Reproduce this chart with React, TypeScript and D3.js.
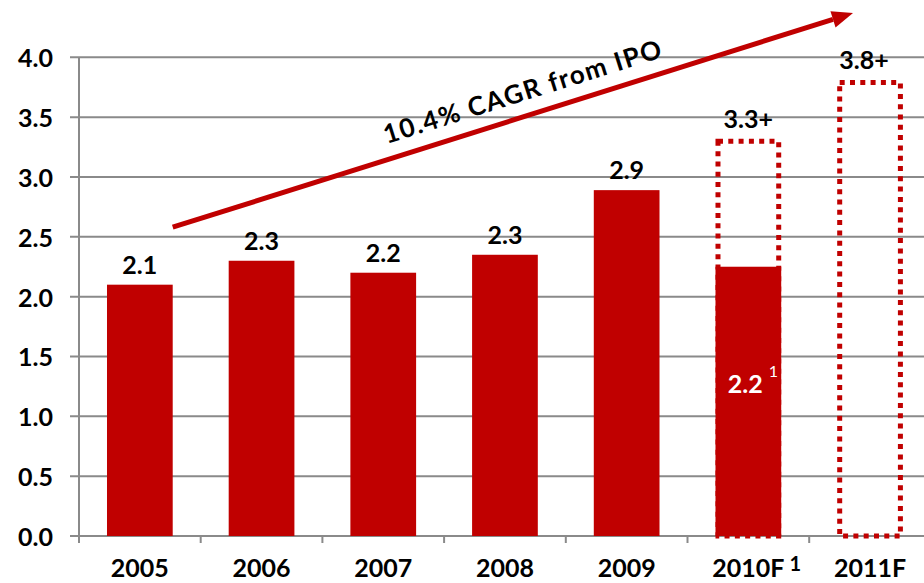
import React from 'react';
import * as d3 from 'd3';

const categories = ['2005', '2006', '2007', '2008', '2009', '2010F', '2011F'];
const actualValues: (number | null)[] = [2.1, 2.3, 2.2, 2.35, 2.89, 2.25, null];
const forecastValues: (number | null)[] = [null, null, null, null, null, 3.32, 3.81];
const valueLabels = ['2.1', '2.3', '2.2', '2.3', '2.9', '3.3+', '3.8+'];
const insideLabel2010 = '2.2';
const footnoteMark = '1';
const yTicks = [0, 0.5, 1, 1.5, 2, 2.5, 3, 3.5, 4];
const cagrText = '10.4% CAGR from IPO';
// arrow annotation in (category index, value) units
const arrowStart = [0.27, 2.58];
const arrowEnd = [5.86, 4.37];

const W = 924;
const H = 583;
const RED = '#C00000';
const GRID = '#8a8a8a';
const FONT = 'Lato, "Open Sans", sans-serif';

export default function App() {
  const left = 79;
  const step = 121.7;
  const x = d3
    .scaleBand<string>()
    .domain(categories)
    .range([left, left + step * categories.length])
    .paddingInner(0.46)
    .paddingOuter(0.23);
  const y = d3.scaleLinear().domain([0, 4]).range([536, 57.3]);
  const xi = d3
    .scaleLinear()
    .domain([-0.5, categories.length - 0.5])
    .range([left, left + step * categories.length]);
  const bw = x.bandwidth();

  const ax1 = xi(arrowStart[0]);
  const ay1 = y(arrowStart[1]);
  const ax2 = xi(arrowEnd[0]);
  const ay2 = y(arrowEnd[1]);
  const ang = Math.atan2(ay2 - ay1, ax2 - ax1);
  const angDeg = (ang * 180) / Math.PI;
  const headLen = 21;
  const headHalf = 8.5;
  const bx = ax2 - headLen * Math.cos(ang);
  const by = ay2 - headLen * Math.sin(ang);
  const px = -Math.sin(ang);
  const py = Math.cos(ang);
  const head = [
    [ax2, ay2],
    [bx + px * headHalf, by + py * headHalf],
    [bx - px * headHalf, by - py * headHalf],
  ]
    .map((p) => p.join(','))
    .join(' ');

  const c2010 = (x('2010F') as number) + bw / 2;

  return (
    <svg
      width={W}
      height={H}
      style={{ position: 'absolute', left: 0, top: 0, background: '#fff' }}
      fontFamily={FONT}
    >
      {/* gridlines */}
      {yTicks.map((t) => (
        <g key={t}>
          <line x1={70} x2={W} y1={y(t)} y2={y(t)} stroke={GRID} strokeWidth={2} />
          <text
            x={53}
            y={y(t)}
            textAnchor="end"
            dominantBaseline="central"
            fontSize={25}
            fontWeight={700}
            fill="#000"
          >
            {t.toFixed(1)}
          </text>
        </g>
      ))}
      {/* y axis */}
      <line x1={left} x2={left} y1={y(4)} y2={543} stroke={GRID} strokeWidth={2} />
      {/* x ticks */}
      {d3.range(categories.length + 1).map((i) => (
        <line
          key={i}
          x1={left + i * step}
          x2={left + i * step}
          y1={y(0)}
          y2={543}
          stroke={GRID}
          strokeWidth={2}
        />
      ))}
      {/* actual bars */}
      {categories.map((c, i) =>
        actualValues[i] == null ? null : (
          <rect
            key={c}
            x={x(c)}
            y={y(actualValues[i] as number)}
            width={bw}
            height={y(0) - y(actualValues[i] as number)}
            fill={RED}
          />
        )
      )}
      {/* forecast dotted boxes */}
      {categories.map((c, i) =>
        forecastValues[i] == null ? null : (
          <rect
            key={'f' + c}
            x={(x(c) as number) + 2.5}
            y={y(forecastValues[i] as number) + 2.5}
            width={bw - 5}
            height={y(0) - y(forecastValues[i] as number) - 2.5}
            fill="none"
            stroke={RED}
            strokeWidth={5}
            strokeDasharray="5 5.3"
          />
        )
      )}
      {/* value labels */}
      {categories.map((c, i) => {
        const v = forecastValues[i] != null ? forecastValues[i] : actualValues[i];
        const dx = c === '2011F' ? -6 : 0;
        return (
          <text
            key={'l' + c}
            x={(x(c) as number) + bw / 2 + dx}
            y={y(v as number) - 11}
            textAnchor="middle"
            fontSize={25}
            fontWeight={700}
            fill="#000"
          >
            {valueLabels[i]}
          </text>
        );
      })}
      {/* 2010F actual label inside bar */}
      <text x={c2010 - 3} y={393} textAnchor="middle" fontSize={25} fontWeight={700} fill="#fff">
        {insideLabel2010}
      </text>
      <text x={c2010 + 25} y={377} textAnchor="middle" fontSize={16} fill="#fff">
        {footnoteMark}
      </text>
      {/* x labels */}
      {categories.map((c) => (
        <text
          key={'x' + c}
          x={(x(c) as number) + bw / 2}
          y={577}
          textAnchor="middle"
          fontSize={25}
          fontWeight={700}
          fill="#000"
        >
          {c}
        </text>
      ))}
      <text x={c2010 + 47} y={571} textAnchor="middle" fontSize={20} fontWeight={700} fill="#000">
        {footnoteMark}
      </text>
      {/* CAGR arrow */}
      <line x1={ax1} y1={ay1} x2={bx} y2={by} stroke={RED} strokeWidth={5} />
      <polygon points={head} fill={RED} />
      <text
        transform={`translate(${522},${91}) rotate(${angDeg})`}
        textAnchor="middle"
        dominantBaseline="central"
        fontSize={26}
        fontWeight={700}
        fill="#000"
        textLength={290}
        lengthAdjust="spacing"
      >
        {cagrText}
      </text>
    </svg>
  );
}
